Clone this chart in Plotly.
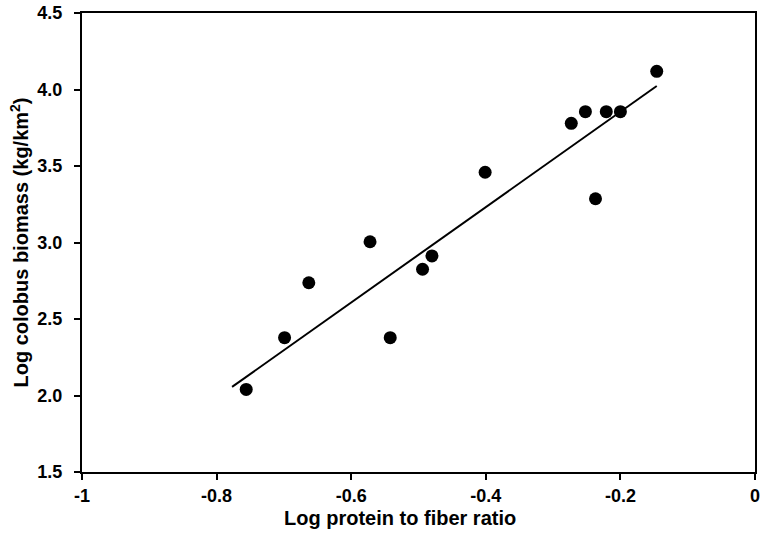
import plotly.graph_objects as go

x_vals = [-0.756, -0.699, -0.663, -0.572, -0.542, -0.494, -0.480, -0.401, -0.273, -0.252, -0.237, -0.221, -0.200, -0.146]
y_vals = [2.04, 2.378, 2.737, 3.005, 2.378, 2.825, 2.912, 3.459, 3.779, 3.855, 3.286, 3.855, 3.855, 4.119]

fit_x = [-0.777, -0.146]
fit_y = [2.056, 4.023]

x_ticks = [-1, -0.8, -0.6, -0.4, -0.2, 0]
x_tick_labels = ["-1", "-0.8", "-0.6", "-0.4", "-0.2", "0"]
y_ticks = [1.5, 2.0, 2.5, 3.0, 3.5, 4.0, 4.5]
y_tick_labels = ["1.5", "2.0", "2.5", "3.0", "3.5", "4.0", "4.5"]

x_title = "Log protein to fiber ratio"
y_title = "Log colobus biomass (kg/km<sup>2</sup>)"

font_family = "Liberation Sans, Arial, sans-serif"

fig = go.Figure()
fig.add_trace(go.Scatter(x=fit_x, y=fit_y, mode="lines",
                         line=dict(color="black", width=2), showlegend=False, hoverinfo="skip"))
fig.add_trace(go.Scatter(x=x_vals, y=y_vals, mode="markers",
                         marker=dict(color="black", size=13, line=dict(width=0)), showlegend=False))

axis_common = dict(showgrid=False, zeroline=False, showline=True, linecolor="black", linewidth=2,
                   mirror=True, ticks="outside", ticklen=6, tickwidth=2, tickcolor="black",
                   automargin=False,
                   tickfont=dict(family=font_family, size=18, color="black", weight="bold"))

fig.update_xaxes(range=[-1, 0], tickvals=x_ticks, ticktext=x_tick_labels,
                 ticklabelstandoff=0, **axis_common)
fig.update_yaxes(range=[1.5, 4.5], tickvals=y_ticks, ticktext=y_tick_labels,
                 ticklabelstandoff=8,
                 title=dict(text="<b>" + y_title + "</b>", standoff=3,
                            font=dict(family=font_family, size=20, color="black")),
                 **axis_common)

fig.add_annotation(text="<b>" + x_title + "</b>", xref="paper", yref="paper",
                   x=0.4725, y=-0.1, xanchor="center", yanchor="middle", showarrow=False,
                   font=dict(family=font_family, size=20, color="black"))

fig.update_layout(width=761, height=535, margin=dict(l=82, r=6, t=13, b=63),
                  autosize=False, plot_bgcolor="white", paper_bgcolor="white")

fig.write_html("out.html", config={"responsive": False, "displayModeBar": False},
               post_script="document.body.style.margin='0';document.body.style.overflow='hidden';")
